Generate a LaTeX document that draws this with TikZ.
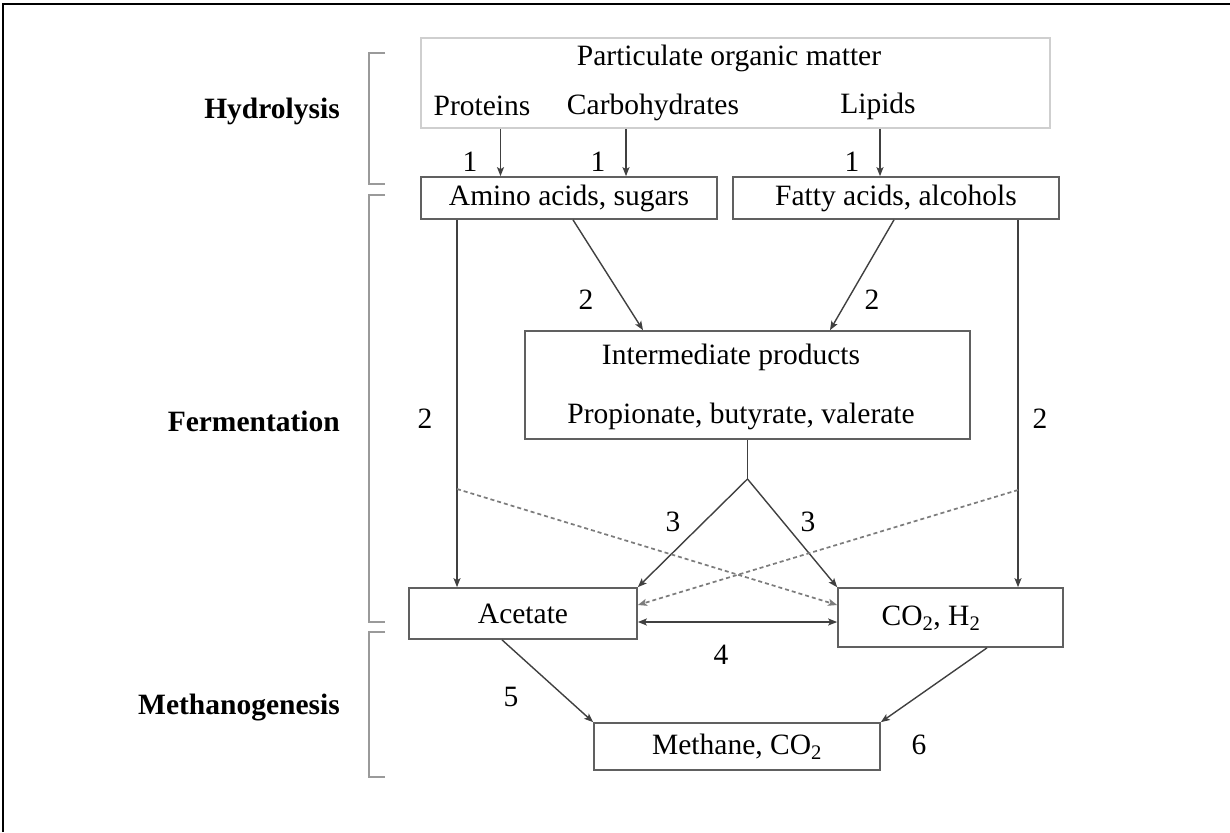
\documentclass[tikz,border=0pt]{standalone}
\usepackage{fontspec}
\setmainfont{Liberation Serif}
\usetikzlibrary{arrows.meta}
\definecolor{boxgray}{HTML}{606060}
\definecolor{lightgray}{HTML}{CFCFCF}
\definecolor{linegray}{HTML}{404040}
\definecolor{dashgray}{HTML}{7C7C7C}
\definecolor{brkgray}{HTML}{9A9A9A}
\begin{document}
\begin{tikzpicture}[x=1pt,y=-1pt,
  every node/.style={font=\fontsize{29.5}{33}\selectfont, inner sep=0pt},
  box/.style={draw=boxgray, line width=1.7pt, inner sep=0pt},
  lbl/.style={font=\fontsize{29.5}{33}\selectfont\bfseries, anchor=east},
  arr/.style={draw=linegray, line width=1.4pt, -{Stealth[length=9pt,width=7pt,inset=2pt]}},
  plain/.style={draw=linegray, line width=1.4pt},
  darr/.style={draw=dashgray, line width=1.7pt, dash pattern=on 4pt off 3pt, -{Stealth[length=9pt,width=7pt,inset=2pt]}},
  dbl/.style={draw=linegray, line width=1.4pt, {Stealth[length=9pt,width=7pt,inset=2pt]}-{Stealth[length=9pt,width=7pt,inset=2pt]}},
  brk/.style={draw=brkgray, line width=2.4pt}
]
\useasboundingbox (0,0) rectangle (1230,832);
\fill[white] (0,0) rectangle (1230,832);
% frame
\draw[line width=2.6pt, black] (3,832) -- (3,4) -- (1230,4);

% boxes
\node[draw=lightgray, line width=1.6pt, minimum width=629pt, minimum height=90pt] (pom) at (735.5,83) {};
\node (tpom) at (729,58) {Particulate organic matter};
\node (tprot) at (482,106) {Proteins};
\node (tcarb) at (653,107) {Carbohydrates};
\node (tlip) at (878,106) {Lipids};

\node[box, minimum width=296pt, minimum height=42pt] (aa) at (569,198) {Amino acids, sugars};
\node[box, minimum width=326pt, minimum height=42pt] (fa) at (896,198) {Fatty acids, alcohols};

\node[box, minimum width=445pt, minimum height=108pt] (im) at (747.5,385) {};
\node (tim1) at (731,357) {Intermediate products};
\node (tim2) at (741,416) {Propionate, butyrate, valerate};

\node[box, minimum width=228pt, minimum height=51pt] (ac) at (523,613.5) {Acetate};
\node[box, minimum width=225pt, minimum height=59pt] (co) at (950.5,617.5) {};
\node (tco) at (931,618) {CO\textsubscript{2}, H\textsubscript{2}};
\node[box, minimum width=286pt, minimum height=47pt] (me) at (737,746.5) {Methane, CO\textsubscript{2}};

% stage labels
\node[lbl] (lh) at (340,111) {Hydrolysis};
\node[lbl] (lf) at (340,421) {Fermentation};
\node[lbl] (lm) at (340,708) {Methanogenesis};

% brackets
\draw[brk] (385,53) -- (369,53) -- (369,184) -- (385,184);
\draw[brk] (385,195) -- (369,195) -- (369,622) -- (385,622);
\draw[brk] (385,632) -- (369,632) -- (369,777) -- (385,777);

% helper coordinates
\coordinate (xp) at (500.5,0);
\coordinate (xc) at (626,0);
\coordinate (xli) at (880,0);
\coordinate (xl) at (457,0);
\coordinate (xr) at (1018,0);
\coordinate (s1) at (573,0);
\coordinate (e1) at (643,0);
\coordinate (s2) at (894,0);
\coordinate (e2) at (830,0);
\coordinate (apex) at (747.5,479);
\coordinate (dl) at (457,489);
\coordinate (dr) at (1018,490);
\coordinate (dy) at (0,605);
\coordinate (by) at (0,622);
\coordinate (x5) at (502,0);
\coordinate (x6) at (987,0);

% hydrolysis arrows
\draw[arr] (pom.south -| xp) -- (aa.north -| xp);
\draw[arr] (pom.south -| xc) -- (aa.north -| xc);
\draw[arr] (pom.south -| xli) -- (fa.north -| xli);

% fermentation
\draw[arr] (aa.south -| s1) -- (im.north -| e1);
\draw[arr] (fa.south -| s2) -- (im.north -| e2);
\draw[arr] (aa.south -| xl) -- (ac.north -| xl);
\draw[arr] (fa.south -| xr) -- (co.north -| xr);
\draw[plain] (im.south) -- (apex);
\draw[arr] (apex) -- (ac.north east);
\draw[arr] (apex) -- (co.north west);
\draw[darr] (dl) -- (co.west |- dy);
\draw[darr] (dr) -- (ac.east |- dy);
\draw[dbl] (ac.east |- by) -- (co.west |- by);

% methanogenesis
\draw[arr] (ac.south -| x5) -- (me.north west);
\draw[arr] (co.south -| x6) -- (me.north east);

% numbers
\node (n1a) at (470,162) {1};
\node (n1b) at (598,162) {1};
\node (n1c) at (852,162) {1};
\node (n2a) at (586,300) {2};
\node (n2b) at (872,300) {2};
\node (n2c) at (425,419) {2};
\node (n2d) at (1040,419) {2};
\node (n3a) at (673,522) {3};
\node (n3b) at (808,522) {3};
\node (n4) at (721,655) {4};
\node (n5) at (511,697) {5};
\node (n6) at (919,745) {6};
\end{tikzpicture}
\end{document}
